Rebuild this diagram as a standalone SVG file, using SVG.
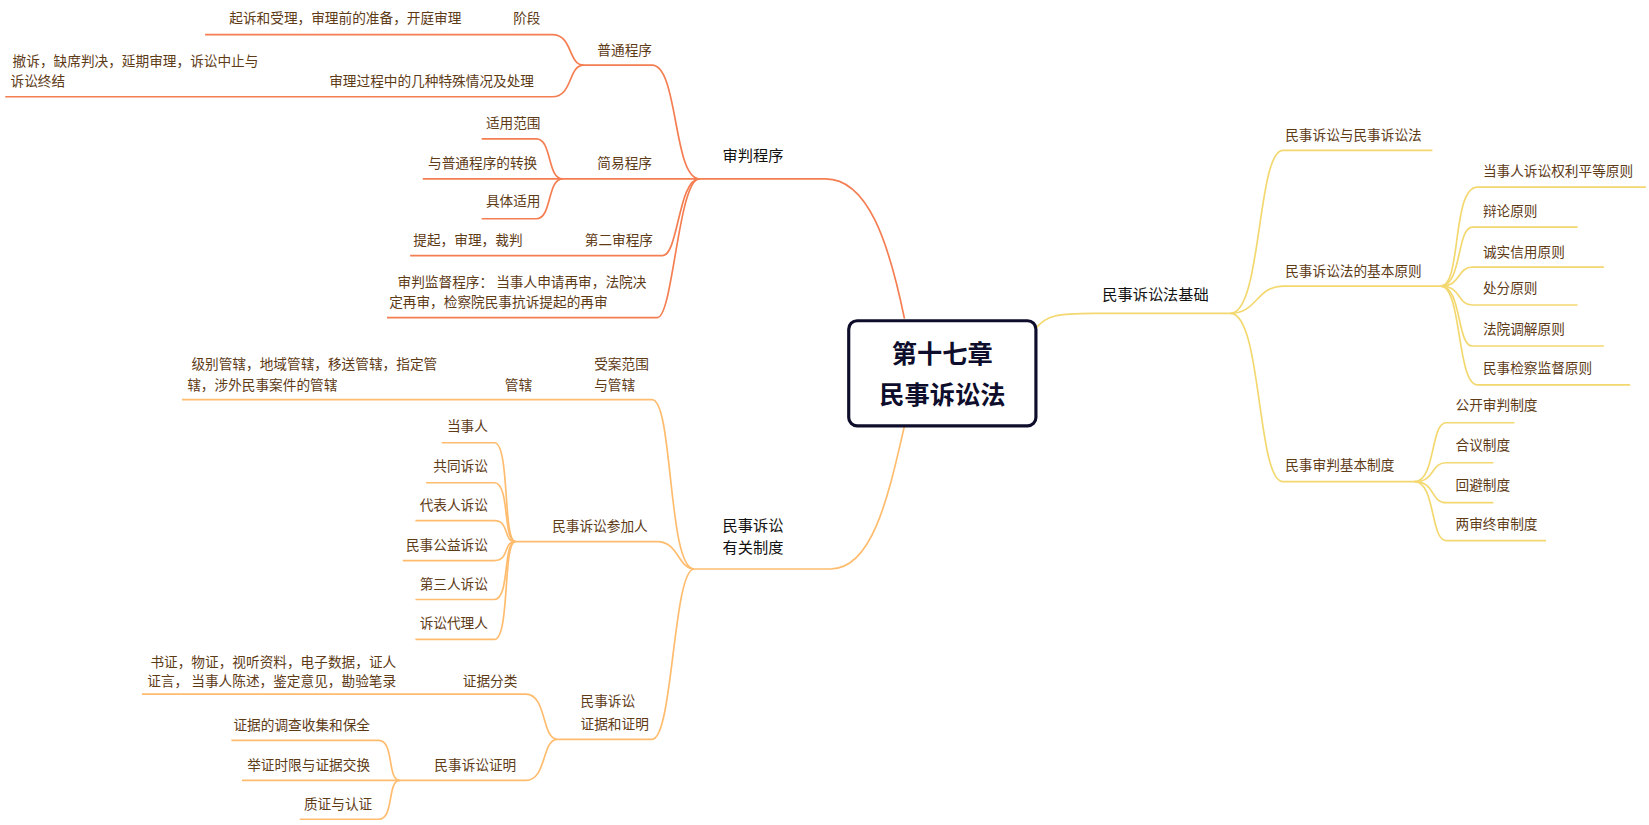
<svg xmlns="http://www.w3.org/2000/svg" width="1649" height="825" viewBox="0 0 1649 825">
<style>
text{font-family:"Noto Sans CJK SC","Noto Sans",sans-serif;font-size:13px;fill:#5e3b17}
.l1{font-size:14.5px;fill:#111}
.c{font-size:24px;font-weight:bold;fill:#0e0e2c}
.a path{fill:none;stroke:#F47E52;stroke-width:1.6}
.b path{fill:none;stroke:#FFBC6E;stroke-width:1.6}
.y path{fill:none;stroke:#F3D870;stroke-width:1.6}
</style>
<rect width="1649" height="825" fill="#fff"/>
<g transform="scale(1.0517)">
<g id="connectors">
<g class="a">
<path d="M860 303 C845 230 825 170 785 170 L660 170" stroke-width="5"/>
<path d="M665 170 C640 170 645 62 620 62 L555 62 C540 62 545 33 525 33 L195 33"/>
<path d="M555 62 C540 62 545 92 525 92 L5 92"/>
<path d="M665 170 L402 170"/>
<path d="M535 170 C520 170 525 132 510 132 L458 132"/>
<path d="M535 170 C520 170 525 208 510 208 L458 208"/>
<path d="M665 170 C645 170 645 243 630 243 L390 243"/>
<path d="M665 170 C645 170 640 302 625 302 L368 302"/>
</g>
<g class="b">
<path d="M860 405 C845 470 830 541 790 541 L660 541" stroke-width="5"/>
<path d="M660 541 C635 541 640 380 620 380 L173 380"/>
<path d="M660 541 C645 541 645 515 625 515 L490 515"/>
<path d="M490 515 C478 515 485 421 470 421 L420 421"/>
<path d="M490 515 C478 515 485 459 470 459 L405 459"/>
<path d="M490 515 C478 515 485 495 470 495 L395 495"/>
<path d="M490 515 C478 515 485 533 470 533 L383 533"/>
<path d="M490 515 C478 515 485 570 470 570 L395 570"/>
<path d="M490 515 C478 515 485 608 470 608 L395 608"/>
<path d="M660 541 C640 541 640 703 620 703 L530 703"/>
<path d="M530 703 C515 703 520 660 500 660 L135 660"/>
<path d="M530 703 C515 703 520 742 500 742 L230 742"/>
<path d="M380 742 C368 742 375 704 360 704 L220 704"/>
<path d="M380 742 C368 742 375 779 360 779 L285 779"/>
</g>
<g class="y">
<path d="M985 312 C995 300 1005 298 1040 298 L1170 298" stroke-width="4"/>
<path d="M1170 298 C1200 298 1195 143 1220 143 L1362 143"/>
<path d="M1170 298 C1195 298 1195 272 1220 272 L1370 272"/>
<path d="M1170 298 C1200 298 1195 458 1220 458 L1345 458"/>
<path d="M1370 272 C1390 272 1380 178 1405 178 L1565 178"/>
<path d="M1370 272 C1390 272 1385 216 1400 216 L1500 216"/>
<path d="M1370 272 C1390 272 1385 254 1400 254 L1525 254"/>
<path d="M1370 272 C1390 272 1385 290 1400 290 L1500 290"/>
<path d="M1370 272 C1390 272 1385 329 1400 329 L1525 329"/>
<path d="M1370 272 C1390 272 1385 366 1405 366 L1550 366"/>
<path d="M1345 458 C1365 458 1360 402 1375 402 L1440 402"/>
<path d="M1345 458 C1365 458 1360 440 1375 440 L1420 440"/>
<path d="M1345 458 C1365 458 1360 478 1375 478 L1420 478"/>
<path d="M1345 458 C1365 458 1360 514 1375 514 L1470 514"/>
</g>
</g>
<g id="root"><rect x="807" y="305" width="178" height="100" rx="8" fill="#fff" stroke="#0e0e2c" stroke-width="3"/>
<text class="c" x="896" y="345" text-anchor="middle">第十七章</text>
<text class="c" x="896" y="384" text-anchor="middle">民事诉讼法</text></g>
<g id="n1"><text class="l1" x="687" y="153">审判程序</text></g>
<g id="n2"><text x="568" y="52">普通程序</text></g>
<g id="n3"><text x="488" y="22">阶段</text></g>
<g id="n4"><text x="218" y="22">起诉和受理，审理前的准备，开庭审理</text></g>
<g id="n5"><text x="313" y="82">审理过程中的几种特殊情况及处理</text></g>
<g id="n6"><text x="12" y="63">撤诉，缺席判决，延期审理，诉讼中止与</text><text x="10" y="82">诉讼终结</text></g>
<g id="n7"><text x="568" y="160">简易程序</text></g>
<g id="n8"><text x="462" y="122">适用范围</text></g>
<g id="n9"><text x="407" y="160">与普通程序的转换</text></g>
<g id="n10"><text x="462" y="196">具体适用</text></g>
<g id="n11"><text x="556" y="233">第二审程序</text></g>
<g id="n12"><text x="393" y="233">提起，审理，裁判</text></g>
<g id="n13"><text x="378" y="273">审判监督程序： 当事人申请再审，法院决</text><text x="370" y="292">定再审，检察院民事抗诉提起的再审</text></g>
<g id="n14"><text class="l1" x="687" y="505">民事诉讼</text><text class="l1" x="687" y="526">有关制度</text></g>
<g id="n15"><text x="565" y="351">受案范围</text><text x="565" y="371">与管辖</text></g>
<g id="n16"><text x="480" y="371">管辖</text></g>
<g id="n17"><text x="182" y="351">级别管辖，地域管辖，移送管辖，指定管</text><text x="178" y="371">辖，涉外民事案件的管辖</text></g>
<g id="n18"><text x="525" y="505">民事诉讼参加人</text></g>
<g id="n19"><text x="425" y="410">当事人</text></g>
<g id="n20"><text x="412" y="448">共同诉讼</text></g>
<g id="n21"><text x="399" y="485">代表人诉讼</text></g>
<g id="n22"><text x="386" y="523">民事公益诉讼</text></g>
<g id="n23"><text x="399" y="560">第三人诉讼</text></g>
<g id="n24"><text x="399" y="597">诉讼代理人</text></g>
<g id="n25"><text x="552" y="671">民事诉讼</text><text x="552" y="693">证据和证明</text></g>
<g id="n26"><text x="440" y="652">证据分类</text></g>
<g id="n27"><text x="143" y="634">书证，物证，视听资料，电子数据，证人</text><text x="140" y="652">证言， 当事人陈述，鉴定意见，勘验笔录</text></g>
<g id="n28"><text x="413" y="732">民事诉讼证明</text></g>
<g id="n29"><text x="222" y="694">证据的调查收集和保全</text></g>
<g id="n30"><text x="235" y="732">举证时限与证据交换</text></g>
<g id="n31"><text x="289" y="769">质证与认证</text></g>
<g id="n32"><text class="l1" x="1048" y="285">民事诉讼法基础</text></g>
<g id="n33"><text x="1222" y="133">民事诉讼与民事诉讼法</text></g>
<g id="n34"><text x="1222" y="262">民事诉讼法的基本原则</text></g>
<g id="n35"><text x="1410" y="167">当事人诉讼权利平等原则</text></g>
<g id="n36"><text x="1410" y="205">辩论原则</text></g>
<g id="n37"><text x="1410" y="244">诚实信用原则</text></g>
<g id="n38"><text x="1410" y="279">处分原则</text></g>
<g id="n39"><text x="1410" y="318">法院调解原则</text></g>
<g id="n40"><text x="1410" y="355">民事检察监督原则</text></g>
<g id="n41"><text x="1222" y="447">民事审判基本制度</text></g>
<g id="n42"><text x="1384" y="390">公开审判制度</text></g>
<g id="n43"><text x="1384" y="428">合议制度</text></g>
<g id="n44"><text x="1384" y="466">回避制度</text></g>
<g id="n45"><text x="1384" y="503">两审终审制度</text></g>
</g>
</svg>
